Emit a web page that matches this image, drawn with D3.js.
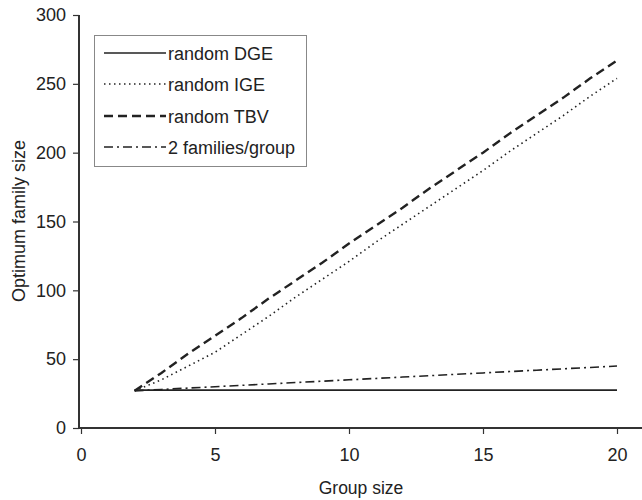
<!DOCTYPE html>
<html><head><meta charset="utf-8">
<script src="https://cdn.jsdelivr.net/npm/d3@7"></script>
<style>body{margin:0;background:#fff}svg{display:block}text{font-family:"Liberation Sans",Arial,sans-serif;fill:#222}</style>
</head><body><svg id="c" width="642" height="500"></svg>
<script>
const groupSizes = [2,3,4,5,6,7,8,9,10,11,12,13,14,15,16,17,18,19,20];
const randomDGE = [27.5,27.5,27.5,27.5,27.5,27.5,27.5,27.5,27.5,27.5,27.5,27.5,27.5,27.5,27.5,27.5,27.5,27.5,27.5];
const randomIGE = [27,35,45,55,68,81,95,108,121,135,148,161,174,187,201,214,227,241,254];
const randomTBV = [27,40,54,67,80,94,107,120,134,147,160,174,187,200,214,227,240,254,267];
const twoFamilies = [27,28,29,30,31,32,33,34,35,36,37,38,39,40,41,42,43,44,45];
const seriesNames = ["random DGE","random IGE","random TBV","2 families/group"];
const xTicks = [0,5,10,15,20];
const yTicks = [0,50,100,150,200,250,300];

const svg = d3.select("#c");
const x = d3.scaleLinear().domain([0,20]).range([81,617]);
const y = d3.scaleLinear().domain([0,300]).range([428,15]);

const styles = [
  {dash:null, w:1.6},
  {dash:"1.5,3.5", w:1.6},
  {dash:"9,5", w:2.4},
  {dash:"9,4,2,4", w:1.6}
];
const data = [randomDGE, randomIGE, randomTBV, twoFamilies];

const xAxis = d3.axisBottom(x).tickValues(xTicks).tickSize(6).tickSizeOuter(0).tickPadding(14);
const gx = svg.append("g").attr("transform","translate(0,428)").call(xAxis);
gx.select(".domain").attr("d","M79,0H642").attr("stroke","#333").attr("stroke-width",2);
gx.selectAll(".tick line").attr("stroke","#333").attr("stroke-width",1.2);
gx.selectAll("text").style("font-size","18px").attr("fill","#222");

const yAxis = d3.axisLeft(y).tickValues(yTicks).tickSize(6).tickSizeOuter(0).tickPadding(7);
const gy = svg.append("g").attr("transform","translate(79,0)").call(yAxis);
gy.select(".domain").attr("d","M0,15V429").attr("stroke","#333").attr("stroke-width",2);
gy.selectAll(".tick line").attr("stroke","#333").attr("stroke-width",1.2);
gy.selectAll("text").style("font-size","18px").attr("fill","#222");

svg.append("text").attr("x",361).attr("y",494).attr("text-anchor","middle").style("font-size","17.5px").text("Group size");
svg.append("text").attr("transform","translate(25,221) rotate(-90)").attr("text-anchor","middle").style("font-size","18px").text("Optimum family size");

const line = d3.line().x((d,i)=>x(groupSizes[i])).y(d=>y(d));
data.forEach((s,k)=>{
  svg.append("path").datum(s).attr("d",line).attr("fill","none")
    .attr("stroke","#222").attr("stroke-width",styles[k].w)
    .attr("stroke-dasharray",styles[k].dash);
});

const lg = svg.append("g");
lg.append("rect").attr("x",94.5).attr("y",35.5).attr("width",212).attr("height",131)
  .attr("fill","#fff").attr("stroke","#888").attr("stroke-width",1);
const rowY = [53,84,116,147];
seriesNames.forEach((n,k)=>{
  lg.append("line").attr("x1",104).attr("x2",166).attr("y1",rowY[k]).attr("y2",rowY[k])
    .attr("stroke","#222").attr("stroke-width",styles[k].w).attr("stroke-dasharray",styles[k].dash);
  lg.append("text").attr("x",168).attr("y",rowY[k]+6.5).style("font-size","18px").text(n);
});
</script></body></html>
